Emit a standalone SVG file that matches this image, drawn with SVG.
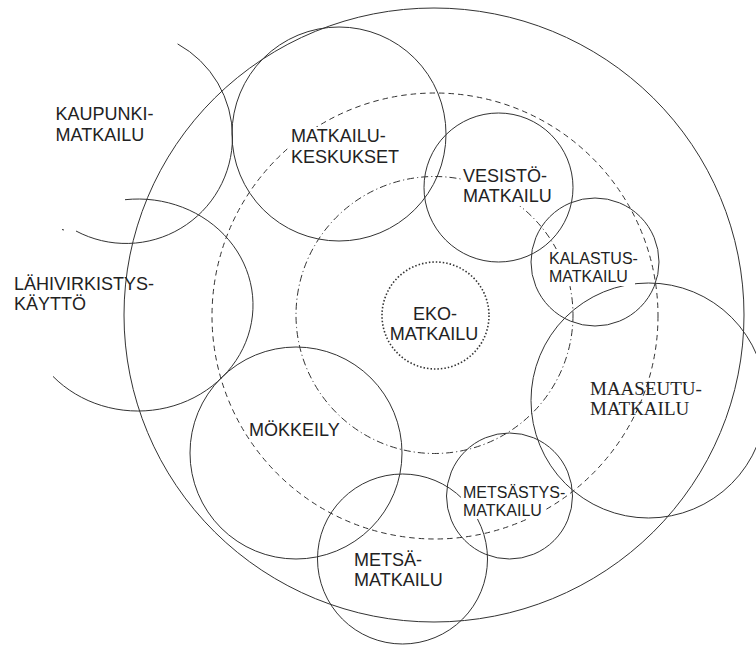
<svg xmlns="http://www.w3.org/2000/svg" width="756" height="646" viewBox="0 0 756 646">
<style>
.c{fill:none;stroke:#333;stroke-width:1}
.dash{stroke-dasharray:5.5 4}
.dd{stroke-dasharray:7 3 1.2 3}
.dot{stroke-width:1.6;stroke-dasharray:1.5 2}
.t{font-family:"Liberation Sans",Arial,sans-serif;font-size:18px;fill:#222}
.s{font-size:16px}
.serif{font-family:"Liberation Serif","Times New Roman",serif;font-size:19px;fill:#222}
.bg{fill:#fff}
</style>
<rect width="756" height="646" fill="#fff"/>
<g id="connectors">
<ellipse id="outer" class="c" cx="434" cy="315" rx="310" ry="307"/>
<circle id="dashed-ring" class="c dash" cx="435" cy="316" r="223"/>
<circle id="dashdot-ring" class="c dd" cx="434.5" cy="315" r="138.5"/>
</g>
<g id="kaupunkimatkailu">
<path class="c" d="M177.6,43.9 A106.5,106.5 0 0 1 232.5,137 A106.5,106.5 0 0 1 76,231"/>
<line class="c" x1="62" y1="229.5" x2="64" y2="230"/>
</g>
<g id="lahivirkistys">
<path class="c" d="M125,199.7 A115,106 0 1 1 53,376.4"/>
</g>
<g id="matkailukeskukset"><circle class="c" cx="339" cy="134" r="107"/></g>
<g id="vesistomatkailu"><circle class="c" cx="498.5" cy="187.5" r="74.5"/></g>
<g id="kalastusmatkailu"><circle class="c" cx="595" cy="262" r="64"/></g>
<g id="maaseutumatkailu"><circle class="c" cx="648.5" cy="400.5" r="117.5"/></g>
<g id="metsastysmatkailu"><circle class="c" cx="509.5" cy="496" r="63"/></g>
<g id="metsamatkailu"><circle class="c" cx="402.5" cy="559" r="85"/></g>
<g id="mokkeily"><circle class="c" cx="296" cy="453" r="106"/></g>
<g id="ekomatkailu"><circle class="c dot" cx="435.5" cy="315.5" r="53.5"/></g>

<g id="labels">
<rect class="bg" x="289" y="127" width="113" height="40"/>
<rect class="bg" x="461" y="165" width="94" height="41"/>
<rect class="bg" x="547" y="249" width="88" height="37"/>
<rect class="bg" x="461" y="483" width="100" height="17"/>
<rect class="bg" x="461" y="500" width="82" height="19"/>

<text class="t" x="55.5" y="119.5">KAUPUNKI-</text>
<text class="t" x="55.5" y="140.5">MATKAILU</text>

<text class="t" x="291" y="141.5">MATKAILU-</text>
<text class="t" x="291" y="163">KESKUKSET</text>

<text class="t" x="463" y="182">VESISTÖ-</text>
<text class="t" x="463" y="202">MATKAILU</text>

<text class="t s" x="549" y="263.5">KALASTUS-</text>
<text class="t s" x="549" y="282">MATKAILU</text>

<text class="t" x="14" y="290">LÄHIVIRKISTYS-</text>
<text class="t" x="14" y="310">KÄYTTÖ</text>

<text class="t" x="435" y="320" text-anchor="middle">EKO-</text>
<text class="t" x="434" y="340" text-anchor="middle">MATKAILU</text>

<text class="serif" x="590" y="395">MAASEUTU-</text>
<text class="serif" x="590" y="415">MATKAILU</text>

<text class="t" x="249" y="436">MÖKKEILY</text>

<text class="t s" x="463" y="497.5">METSÄSTYS-</text>
<text class="t s" x="463" y="516">MATKAILU</text>

<text class="t" x="354" y="566">METSÄ-</text>
<text class="t" x="354" y="585.5">MATKAILU</text>
</g>
</svg>
